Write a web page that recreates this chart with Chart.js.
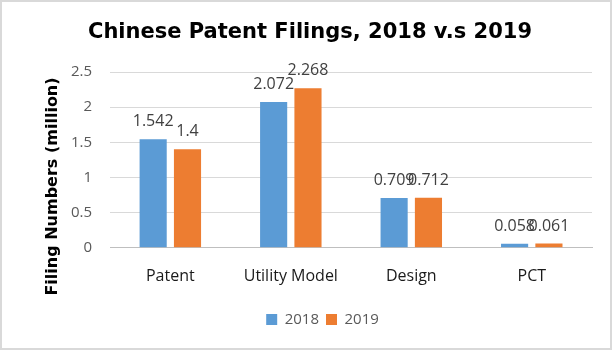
<!DOCTYPE html>
<html>
<head>
<meta charset="utf-8">
<script src="https://cdn.jsdelivr.net/npm/chart.js@4"></script>
<style>
html,body{margin:0;padding:0;background:#fff;}
#wrap{width:612px;height:350px;box-sizing:border-box;border:2px solid #d9d9d9;position:relative;}
canvas{display:block;}
</style>
</head>
<body>
<div id="wrap"><canvas id="c" width="608" height="346"></canvas></div>
<script>
const categories = ["Patent", "Utility Model", "Design", "PCT"];
const series2018 = [1.542, 2.072, 0.709, 0.058];
const series2019 = [1.4, 2.268, 0.712, 0.061];
const labels2018 = ["1.542", "2.072", "0.709", "0.058"];
const labels2019 = ["1.4", "2.268", "0.712", "0.061"];
const yTicks = [0, 0.5, 1, 1.5, 2, 2.5];
const seriesNames = ["2018", "2019"];
const titleText = "Chinese Patent Filings, 2018 v.s 2019";
const yTitleText = "Filing Numbers (million)";

const FONT = "'Open Sans', sans-serif";
const BOLD = "'DejaVu Sans', sans-serif";

const valueLabels = {
  id: 'valueLabels',
  afterDatasetsDraw(chart) {
    const ctx = chart.ctx;
    const texts = [labels2018, labels2019];
    ctx.save();
    ctx.font = "16px " + FONT;
    ctx.fillStyle = "#404040";
    ctx.textAlign = "center";
    ctx.textBaseline = "alphabetic";
    chart.data.datasets.forEach((ds, i) => {
      const meta = chart.getDatasetMeta(i);
      meta.data.forEach((bar, j) => {
        ctx.fillText(texts[i][j], bar.x, bar.y - 13);
      });
    });
    ctx.restore();
  }
};

const titles = {
  id: 'titles',
  afterDraw(chart) {
    const ctx = chart.ctx;
    ctx.save();
    ctx.fillStyle = "#000";
    ctx.textAlign = "center";
    ctx.textBaseline = "alphabetic";
    ctx.font = "bold 21px " + BOLD;
    ctx.fillText(titleText, chart.width / 2 + 4, 36);
    const cy = (chart.chartArea.top + chart.legend.top) / 2 - 2;
    ctx.translate(51, cy);
    ctx.rotate(-Math.PI / 2);
    ctx.font = "bold 16px " + BOLD;
    ctx.textBaseline = "middle";
    ctx.fillText(yTitleText, 0, 0);
    ctx.restore();
  }
};

new Chart(document.getElementById('c'), {
  type: 'bar',
  data: {
    labels: categories,
    datasets: [
      { label: seriesNames[0], data: series2018, backgroundColor: '#5B9BD5', categoryPercentage: 0.57, barPercentage: 0.79 },
      { label: seriesNames[1], data: series2019, backgroundColor: '#ED7D31', categoryPercentage: 0.57, barPercentage: 0.79 }
    ]
  },
  options: {
    responsive: false,
    animation: false,
    layout: { padding: { left: 51, right: 18, top: 70, bottom: 11 } },
    plugins: {
      title: { display: false },
      legend: {
        position: 'bottom',
        labels: {
          color: '#595959',
          font: { family: FONT, size: 15 },
          boxWidth: 11, boxHeight: 11, padding: 7
        }
      },
      tooltip: { enabled: false }
    },
    scales: {
      x: {
        grid: { display: false, drawTicks: false },
        border: { color: '#bfbfbf' },
        ticks: { color: '#1a1a1a', font: { family: FONT, size: 16 }, padding: 19 }
      },
      y: {
        min: 0, max: 2.5,
        afterBuildTicks(scale) { scale.ticks = yTicks.map(v => ({ value: v })); },
        grid: { color: '#d9d9d9', drawTicks: false },
        border: { display: false },
        ticks: { color: '#595959', font: { family: FONT, size: 15 }, padding: 18, callback: v => String(v) }
      }
    }
  },
  plugins: [valueLabels, titles]
});
</script>
</body>
</html>
